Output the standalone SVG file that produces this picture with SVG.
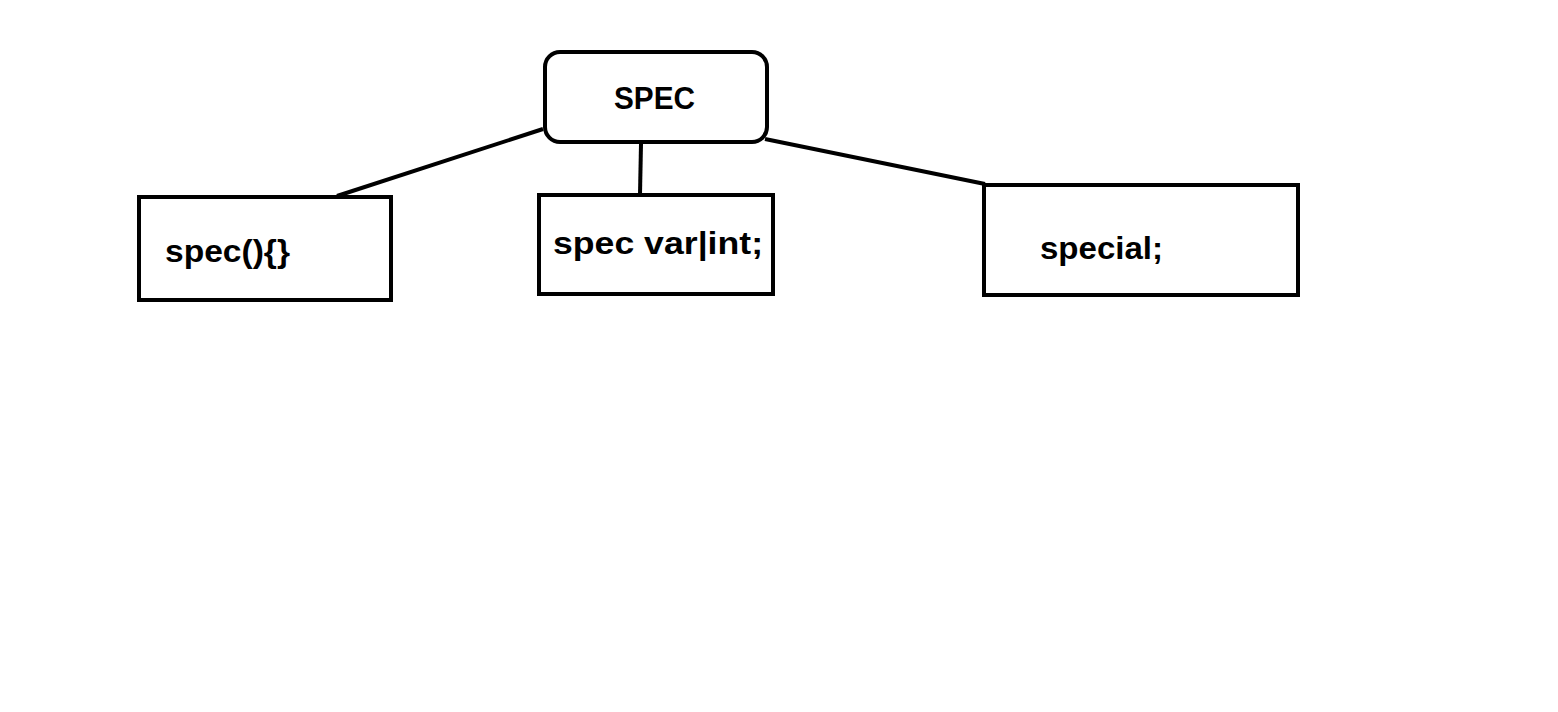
<svg xmlns="http://www.w3.org/2000/svg" width="1558" height="712" viewBox="0 0 1558 712">
<style>
.box{fill:#fff;stroke:#000;stroke-width:4}
.lbl{font-family:"Liberation Sans","Open Sans",sans-serif;font-weight:bold;font-size:31px;fill:#000}
.con{stroke:#000;stroke-width:4;fill:none}
</style>
<rect width="1558" height="712" fill="#fff"/>
<g id="connectors">
<line class="con" x1="543" y1="129" x2="337" y2="196"/>
<line class="con" x1="641" y1="144" x2="640" y2="194"/>
<line class="con" x1="765" y1="139" x2="985" y2="184"/>
</g>
<g id="spec">
<rect class="box" x="545" y="52" width="222" height="90" rx="15"/>
<text class="lbl" x="614" y="109" textLength="81" lengthAdjust="spacingAndGlyphs">SPEC</text>
</g>
<g id="func">
<rect class="box" x="139" y="197" width="252" height="103"/>
<text class="lbl" x="165" y="262" textLength="125" lengthAdjust="spacingAndGlyphs">spec(){}</text>
</g>
<g id="var">
<rect class="box" x="539" y="195" width="234" height="99"/>
<text class="lbl" x="553" y="254" textLength="210" lengthAdjust="spacingAndGlyphs">spec var|int;</text>
</g>
<g id="special">
<rect class="box" x="984" y="185" width="314" height="110"/>
<text class="lbl" x="1040" y="259" textLength="123" lengthAdjust="spacingAndGlyphs">special;</text>
</g>
</svg>
